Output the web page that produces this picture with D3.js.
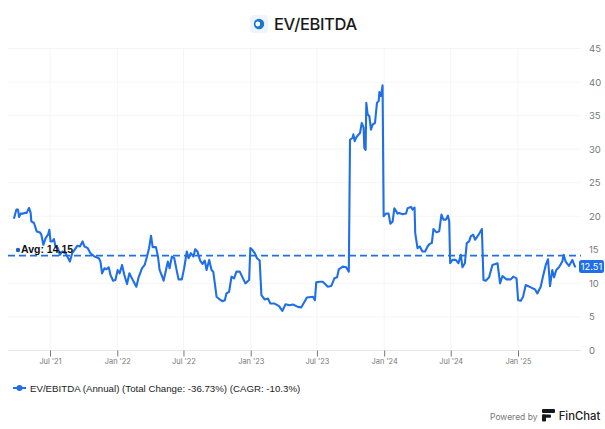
<!DOCTYPE html>
<html><head><meta charset="utf-8">
<script src="https://cdn.jsdelivr.net/npm/d3@7/dist/d3.min.js"></script>
<style>html,body{margin:0;padding:0;background:#fff}svg{display:block}</style>
</head><body><div id="c"></div>
<script>
const titleText = "EV/EBITDA";
const legendText = "EV/EBITDA (Annual) (Total Change: -36.73%) (CAGR: -10.3%)";
const avgValue = 14.15;
const lastValue = 12.51;
const yTicks = [0,5,10,15,20,25,30,35,40,45];
const xTickDates = ["2021-07-01","2022-01-01","2022-07-01","2023-01-01","2023-07-01","2024-01-01","2024-07-01","2025-01-01"];
const xTickLabels = ["Jul '21","Jan '22","Jul '22","Jan '23","Jul '23","Jan '24","Jul '24","Jan '25"];
// dates as decimal years
const years = [
2021.227,2021.244,2021.256,2021.264,2021.276,2021.294,2021.306,2021.321,2021.339,2021.351,2021.356,2021.376,2021.396,2021.421,2021.431,2021.446,2021.463,2021.481,2021.491,2021.500,2021.513,2021.525,2021.538,2021.555,2021.570,2021.588,2021.613,2021.645,2021.662,2021.680,2021.700,2021.720,2021.740,2021.754,2021.779,2021.799,2021.829,2021.862,2021.874,2021.886,2021.904,2021.919,2021.936,2021.949,2021.969,2021.986,
2022.003,2022.018,2022.036,2022.053,2022.073,2022.091,2022.106,2022.123,2022.143,2022.160,2022.185,2022.205,2022.223,2022.238,2022.253,2022.265,2022.290,2022.305,2022.317,2022.335,2022.347,2022.365,2022.379,2022.392,2022.409,2022.427,2022.447,2022.459,2022.484,2022.501,2022.521,2022.534,2022.551,2022.571,2022.584,2022.601,2022.621,
2022.639,2022.656,2022.669,2022.689,2022.706,2022.719,2022.731,2022.744,2022.768,2022.788,2022.806,2022.818,2022.838,2022.856,2022.875,2022.893,2022.918,2022.938,2022.960,2022.988,2022.997,
2023.012,2023.030,2023.047,2023.067,2023.080,2023.105,2023.129,2023.147,2023.179,2023.212,2023.237,2023.261,2023.291,2023.316,2023.354,2023.378,2023.403,2023.421,2023.466,2023.481,2023.491,2023.515,2023.540,2023.578,2023.603,2023.627,2023.647,2023.660,2023.690,2023.715,2023.735,
2023.744,2023.764,2023.769,2023.779,2023.789,2023.809,2023.819,2023.832,2023.846,2023.851,2023.861,2023.866,2023.876,2023.889,2023.901,2023.914,2023.931,2023.946,2023.959,2023.964,2023.976,2023.988,2023.996,
2024.013,2024.033,2024.046,2024.063,2024.076,2024.100,2024.112,2024.138,2024.163,2024.175,2024.200,2024.212,2024.227,2024.232,2024.249,2024.266,2024.286,2024.306,2024.324,2024.341,2024.356,2024.368,2024.391,2024.411,2024.428,2024.443,2024.461,2024.476,2024.486,2024.493,2024.510,2024.535,2024.555,2024.573,2024.585,2024.603,2024.617,2024.635,2024.647,2024.665,2024.680,2024.710,2024.730,2024.742,2024.759,2024.784,2024.809,2024.847,2024.866,2024.884,2024.914,2024.946,2024.964,2024.989,
2025.001,2025.021,2025.038,2025.058,2025.096,2025.128,2025.145,2025.170,2025.188,2025.208,2025.225,2025.240,2025.257,2025.270,2025.287,2025.307,2025.332,2025.342,2025.357,2025.382,2025.407,2025.427];
const values = [
19.75,21,21,19.9,20.4,20.4,20.5,20.5,21.25,20.5,19.25,19,17.75,17.6,17.25,15.75,16.75,17.25,18,16.25,16.25,16.6,15.4,15.25,14.25,14.75,14.5,13.25,14.5,15,15.6,15.5,16.25,15.5,15.25,14.5,14,13.75,13.25,11.5,12.25,12.1,12.4,11.25,10.4,10.5,
12,11.5,12.75,11.25,9.9,11.5,10.9,10.25,9.5,10.9,12.25,12.75,14,15.25,17.1,15.4,15.4,14,12,11.1,10.4,12,13.25,12.25,14,13.75,11.75,10.6,10.6,12.25,14.75,13.75,14.5,14,15.1,14.75,13.4,
12.9,13.4,12,13.5,12,11.75,10,8,7.6,7.35,7.5,8.5,8.75,11,10.75,11.75,11.75,10.9,10,10.5,15.25,
15,14.5,13.75,13.4,8.25,7.6,7.75,7,7,6.6,5.9,6.9,6.75,6.85,6.5,6.4,7.25,7.9,8,7.5,10.15,10.25,10.25,9.5,9.6,10.75,10.9,12.1,12.5,12.4,11.75,
31.4,31.7,32.2,31.2,31.7,32.2,32.4,33.9,33.2,30.2,29.9,36.9,35.2,34.9,32.9,33.7,33.9,36.9,37.2,38.5,37.9,39.5,20,
20.4,20.4,18.9,19.2,21.2,20.4,20.5,20.3,20.4,21.2,21.4,21,21.3,17.5,15.25,15.5,14.75,14.75,15.5,15.9,16,18.1,17.6,17.75,20.25,19.5,19.5,20.1,19.25,13,13.5,13.5,13,14.25,12.4,13,16,16.25,17,17.25,16.5,17.4,18.1,10.5,10.4,10.9,12.75,13,10,11.1,10.6,10.6,11,10.75,
7.5,7.4,8,9.75,9.4,9.1,8.5,9.5,11.1,12.75,13.6,9.6,12,10.9,12,12.4,13.25,14.25,13.25,12.6,13.5,12.51];

const W=605,H=429,BLUE="#1f6fe8";
const yearToDate = y => { const yr=Math.floor(y), a=+new Date(Date.UTC(yr,0,1)), b=+new Date(Date.UTC(yr+1,0,1)); return new Date(a+(y-yr)*(b-a)); };
const tickDates = xTickDates.map(d=>new Date(d+"T00:00:00Z"));
const x = d3.scaleUtc().domain([tickDates[0],tickDates[7]]).range([50,518]);
const y = d3.scaleLinear().domain([0,45]).range([350.5,48.5]);
const left=8,right=581;
const svg=d3.select("#c").append("svg").attr("width",W).attr("height",H).style("font-family","Inter, sans-serif");

// grid
svg.append("g").selectAll("line").data(yTicks).join("line")
 .attr("x1",left).attr("x2",right).attr("y1",d=>y(d)).attr("y2",d=>y(d))
 .attr("stroke",d=>d===0?"#e6e6e6":"#f5f5f5").attr("stroke-width",1);
svg.append("g").selectAll("line").data(tickDates).join("line")
 .attr("x1",d=>x(d)).attr("x2",d=>x(d)).attr("y1",48.5).attr("y2",350.5)
 .attr("stroke","#f5f5f5");

// axes
const gx=svg.append("g").attr("transform","translate(0,350.5)")
 .call(d3.axisBottom(x).tickValues(tickDates).tickFormat((d,i)=>xTickLabels[i]).tickSize(6).tickPadding(2));
gx.select(".domain").remove();
gx.selectAll("line").attr("stroke","#777");
gx.selectAll("text").attr("font-size",7.4).attr("font-family","Inter, sans-serif").attr("fill","#777");
const gy=svg.append("g").attr("transform",`translate(${right},0)`)
 .call(d3.axisRight(y).tickValues(yTicks).tickSize(0).tickPadding(8));
gy.select(".domain").remove();
gy.selectAll("text").attr("font-size",9.5).attr("font-family","Inter, sans-serif").attr("fill","#777");

// average
svg.append("line").attr("x1",left).attr("x2",right).attr("y1",y(avgValue)).attr("y2",y(avgValue))
 .attr("stroke",BLUE).attr("stroke-width",1.7).attr("stroke-dasharray","7 4");

// line
const data=years.map((t,i)=>({t:yearToDate(t),v:values[i]}));
svg.append("path").datum(data).attr("fill","none").attr("stroke",BLUE).attr("stroke-width",2.1)
 .attr("stroke-linejoin","round").attr("stroke-linecap","round")
 .attr("d",d3.line().x(d=>x(d.t)).y(d=>y(d.v)));

// avg label
svg.append("circle").attr("cx",18).attr("cy",250).attr("r",2.2).attr("fill","#1f5fc0");
svg.append("text").attr("x",21).attr("y",253).attr("font-family","Liberation Sans, Arial, sans-serif").attr("font-weight",700).attr("font-size",10.5).attr("fill","#111").text("Avg: "+avgValue.toFixed(2));

// last value tag
svg.append("rect").attr("x",579).attr("y",y(lastValue)-6.5).attr("width",25).attr("height",13).attr("rx",2.5).attr("fill",BLUE);
svg.append("text").attr("x",591.5).attr("y",y(lastValue)+3.5).attr("text-anchor","middle").attr("font-size",9.3).attr("fill","#fff").text(lastValue.toFixed(2));

// title
const lg=svg.append("g").attr("transform","translate(250,15)");
lg.append("rect").attr("width",18).attr("height",18).attr("rx",4).attr("fill","#eef3fc");
lg.append("circle").attr("cx",9).attr("cy",9).attr("r",5.2).attr("fill","#1877cf");
lg.append("circle").attr("cx",7.8).attr("cy",9).attr("r",2.4).attr("fill","#fff");
svg.append("text").attr("x",274).attr("y",29.5).attr("font-size",16.5).attr("font-weight",500).attr("letter-spacing",-0.35).attr("fill","#1a1a1a").text(titleText);

// legend
svg.append("line").attr("x1",13).attr("x2",26).attr("y1",388).attr("y2",388).attr("stroke",BLUE).attr("stroke-width",2);
svg.append("circle").attr("cx",19.5).attr("cy",388).attr("r",3).attr("fill",BLUE);
svg.append("text").attr("x",30).attr("y",391.5).attr("font-family","Liberation Sans, Arial, sans-serif").attr("font-size",9.7).attr("fill","#222").text(legendText);

// branding
svg.append("text").attr("x",490).attr("y",419.5).attr("font-size",8.5).attr("fill","#777").text("Powered by");
const b=svg.append("g").attr("transform","translate(542,409)").attr("fill","#16181d");
b.append("rect").attr("width",13).attr("height",4).attr("rx",1);
b.append("rect").attr("y",5.5).attr("width",9).attr("height",3.2).attr("rx",1);
b.append("rect").attr("y",5.5).attr("width",4).attr("height",7).attr("rx",1);
svg.append("text").attr("x",558.7).attr("y",419.5).attr("font-size",11.3).attr("font-weight",500).attr("fill","#222").text("FinChat");
</script></body></html>
